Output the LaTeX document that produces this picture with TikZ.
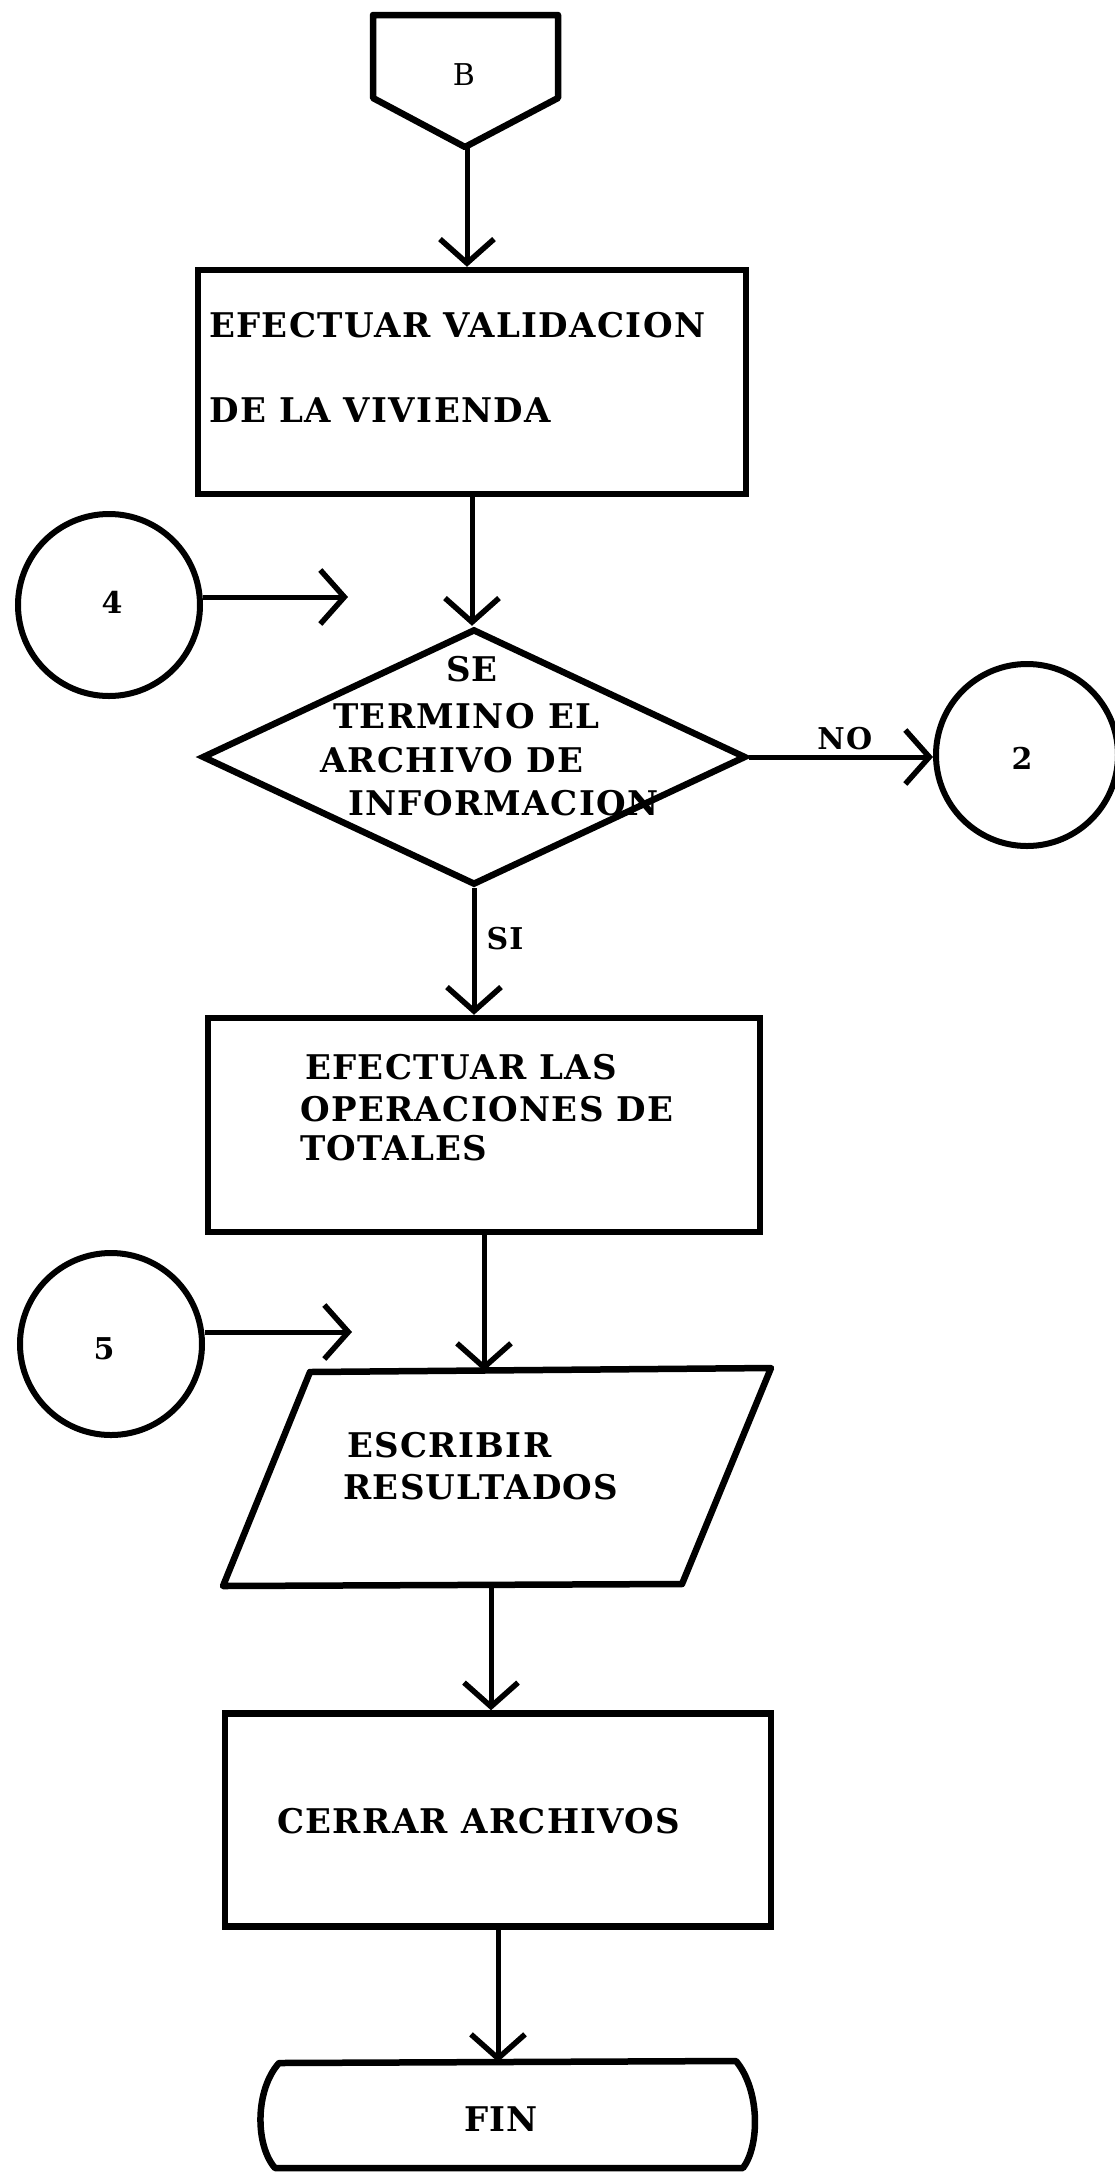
\documentclass[tikz,border=0pt]{standalone}
\usepackage{fontspec}
\setmainfont{DejaVu Serif}[LetterSpace=4]
\usetikzlibrary{shapes.geometric,arrows.meta}
\begin{document}
\begin{tikzpicture}[x=1pt,y=-1pt,
  procbox/.style={draw, line width=6.5pt, rectangle, inner sep=0pt},
  outl/.style={draw, line width=6.5pt, line join=round},
  conn/.style={draw, line width=6pt, circle, inner sep=0pt, minimum size=182pt},
  txt/.style={font=\fontsize{34}{40}\selectfont\bfseries, inner sep=0pt, anchor=west},
  ctxt/.style={font=\fontsize{34}{40}\selectfont\bfseries, inner sep=0pt},
  lbl/.style={font=\fontsize{30}{36}\selectfont\bfseries, inner sep=0pt},
  num/.style={font=\fontsize{30}{36}\selectfont\bfseries, inner sep=0pt},
  arr/.style={line width=5pt, -{Straight Barb[length=24pt,width=54pt,line width=5.5pt]}}]
\useasboundingbox (0,0) rectangle (1115,2172);
\fill[white] (0,0) rectangle (1115,2172);

% off-page connector B
\draw[outl] (373,15) -- (558,15) -- (558,98) -- (465,147) -- (373,98) -- cycle;
\node[lbl, font=\fontsize{30}{36}\selectfont] (Btxt) at (464,75) {B};
\coordinate (Btip) at (467,147);

% process box 1
\node[procbox, minimum width=548pt, minimum height=224pt] (box1) at (472,382) {};
\node[txt] (t1a) at (209,325) {EFECTUAR VALIDACION};
\node[txt] (t1b) at (209,410) {DE LA VIVIENDA};

% connector 4
\node[conn] (c4) at (109,605) {};
\node[num] (n4) at (112,602) {4};
\coordinate (a4) at (348,597);

% decision
\node[diamond, draw, line width=6.5pt, inner sep=0pt, minimum width=544pt, minimum height=256pt] (diam) at (474,757) {};
\node[ctxt] (d1) at (472,669) {SE};
\node[txt] (d2) at (333,716) {TERMINO EL};
\node[txt] (d3) at (320,760) {ARCHIVO DE};
\node[txt] (d4) at (348,803) {INFORMACION};

% connector 2
\node[conn] (c2) at (1027,755) {};
\node[num] (n2) at (1022,758) {2};

% process box 2
\node[procbox, minimum width=552pt, minimum height=214pt] (box2) at (484,1125) {};
\node[txt] (t2a) at (305,1067) {EFECTUAR LAS};
\node[txt] (t2b) at (300,1109) {OPERACIONES DE};
\node[txt] (t2c) at (300,1148) {TOTALES};

% connector 5
\node[conn] (c5) at (111,1344) {};
\node[num] (n5) at (104,1349) {5};
\coordinate (a5) at (352,1332);

% output parallelogram
\draw[outl] (310,1372) -- (771,1368) -- (682,1584) -- (223,1586) -- cycle;
\coordinate (ptop) at (486,1371);
\coordinate (pbot) at (491,1585);
\node[txt] (t3a) at (347,1445) {ESCRIBIR};
\node[txt] (t3b) at (343,1487) {RESULTADOS};

% process box 3
\node[procbox, minimum width=546pt, minimum height=213pt] (box3) at (498,1820) {};
\node[txt] (t4) at (277,1821) {CERRAR ARCHIVOS};

% terminal FIN
\draw[outl] (279,2063) -- (736,2061) .. controls (760,2090) and (760,2145) .. (743,2168)
  -- (275,2168) .. controls (255,2145) and (255,2090) .. (279,2063) -- cycle;
\coordinate (fintop) at (498,2062);
\node[ctxt] (fin) at (501,2119) {FIN};

% connectors
\draw[arr] (Btip) -- (Btip |- box1.north);
\draw[arr] (box1.south) -- (box1.south |- diam.north);
\draw[arr] (c4.east |- a4) -- (a4);
\draw[arr] (diam.east) -- node[lbl, above=5pt, pos=0.52] (nolbl) {NO} (diam.east -| c2.west);
\draw[arr] (diam.south) -- node[lbl, right=10pt, pos=0.4] (silbl) {SI} (diam.south |- box2.north);
\draw[arr] (box2.south) -- (box2.south |- ptop);
\draw[arr] (c5.east |- a5) -- (a5);
\draw[arr] (pbot) -- (pbot |- box3.north);
\draw[arr] (box3.south) -- (box3.south |- fintop);
\end{tikzpicture}
\end{document}
